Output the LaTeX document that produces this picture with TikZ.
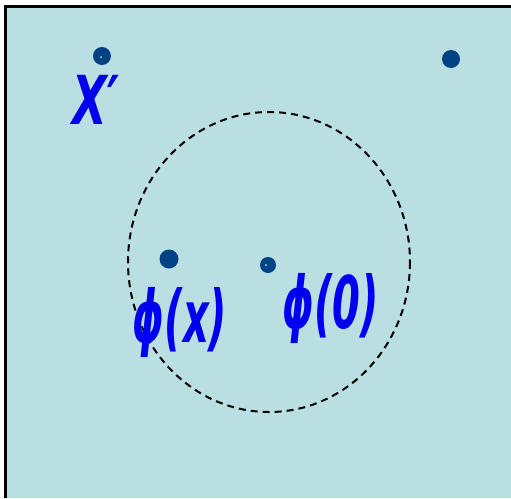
\documentclass[tikz,border=0pt]{standalone}
\usepackage{fontspec}
\newfontfamily\hand{DejaVu Sans}
\definecolor{bg}{HTML}{BADFE3}
\definecolor{dotc}{HTML}{004385}
\definecolor{ink}{HTML}{0000F0}
\begin{document}
\begin{tikzpicture}[x=1pt,y=-1pt,
  dotstyle/.style={circle,fill=dotc,inner sep=0pt},
  spec/.style={circle,fill=white!80!dotc,inner sep=0pt,minimum size=2pt},
  lbl/.style={text=ink,font=\hand\bfseries\itshape\fontsize{50}{50}\selectfont,inner sep=0pt}]
\useasboundingbox (0,0) rectangle (511,498);
\fill[white] (0,0) rectangle (511,498);
\fill[bg] (5,6) rectangle (511,498);
\draw[line width=3pt] (5,498) -- (5,6) -- (511,6);
\draw[line width=2pt,dash pattern=on 7pt off 5pt] (269,262) ellipse [x radius=141, y radius=150];
\node[dotstyle,minimum size=18pt] (d1) at (102,56) {};
\node[spec] at (101,57) {};
\node[dotstyle,minimum size=18pt] (d2) at (451,59) {};
\node[dotstyle,minimum size=19pt] (d3) at (169,259) {};
\node[dotstyle,minimum size=16pt] (d4) at (268,265) {};
\node[spec] at (266,265) {};
\node[lbl] (t1) at (96,100) {\scalebox{0.9}[1.35]{X′}};
\node[lbl] (t2) at (180,322) {\scalebox{0.8}[1.45]{ϕ(x)}};
\node[lbl] (t3) at (331,308) {\scalebox{0.8}[1.45]{ϕ(0)}};
\end{tikzpicture}
\end{document}
